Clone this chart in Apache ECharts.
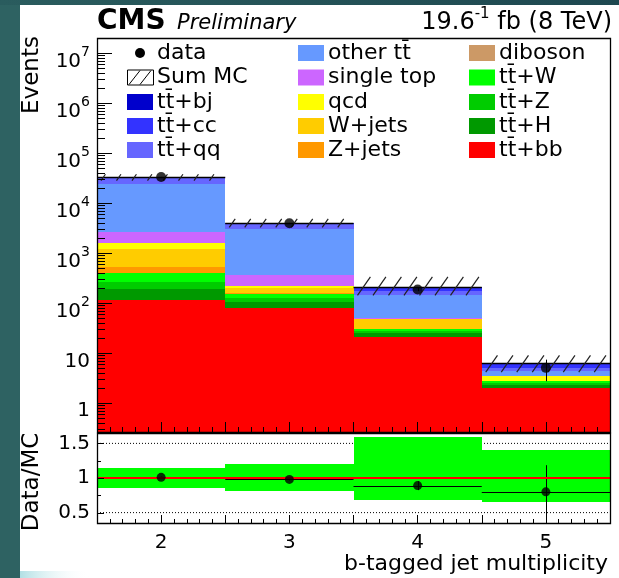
<!DOCTYPE html>
<html><head><meta charset="utf-8">
<script src="https://cdn.jsdelivr.net/npm/echarts@6/dist/echarts.min.js"></script>
<style>html,body{margin:0;padding:0;background:#fff;}#c{width:619px;height:578px;}</style>
</head><body><div id="c"></div>
<script>
// ---------------- data ----------------
const bins = [2, 3, 4, 5];
const xTickLabels = ['2', '3', '4', '5'];
// MC components, stacked bottom -> top
const ttbb      = [115, 79, 21, 2.0];
const ttH       = [75, 26, 4, 0.24];
const ttZ       = [73, 21, 2.5, 0.21];
const ttW       = [135, 25, 2, 0.24];
const diboson   = [5, 1, 0.2, 0];
const zjets     = [122, 3, 0.3, 0];
const wjets     = [677, 45, 18, 0];
const qcd       = [383, 19, 0, 0.7];
const singleTop = [1045, 144, 1.5, 0];
const otherTT   = [21370, 2657, 95, 0.98];
const ttqq      = [7000, 780, 29, 0.63];
const ttcc      = [1200, 150, 21, 0.89];
const ttbj      = [500, 50, 13, 0.41];
const dataVals  = [33000, 3920, 185, 5.0];
const dataErr   = [182, 63, 13.6, 2.3];
const mcUncLow  = [0.855, 0.81, 0.68, 0.65];
const mcUncHigh = [1.145, 1.198, 1.59, 1.406];
const ratioVals = [1.01, 0.98, 0.89, 0.80];
const ratioErr  = [0.01, 0.015, 0.065, 0.385];
const yMajorTicks = [1, 10, 100, 1e3, 1e4, 1e5, 1e6, 1e7];
const yTickLabels = ['1', '10', '10^2', '10^3', '10^4', '10^5', '10^6', '10^7'];
const ratioTicks = [0.5, 1, 1.5];
const ratioTickLabels = ['0.5', '1', '1.5'];
const ratioMinorTicks = [0.75, 1.25];
const ratioGridLines = [0.5, 1.5];

// ---------------- setup ----------------
const FONT = 'DejaVu Sans';
const X_MIN = 1.5, X_MAX = 5.5, Y_MIN = 0.26, Y_MAX = 2e7, R_MIN = 0.35, R_MAX = 1.65;
const HALF = 0.5;
const TT = 't' + 't\u0304';

const processes = [
  {name: TT + '+bb', values: ttbb, color: '#ff0000'},
  {name: TT + '+H', values: ttH, color: '#009900'},
  {name: TT + '+Z', values: ttZ, color: '#00cc00'},
  {name: TT + '+W', values: ttW, color: '#00ff00'},
  {name: 'diboson', values: diboson, color: '#cc9966'},
  {name: 'Z+jets', values: zjets, color: '#ff9900'},
  {name: 'W+jets', values: wjets, color: '#ffcc00'},
  {name: 'qcd', values: qcd, color: '#ffff00'},
  {name: 'single top', values: singleTop, color: '#cc66ff'},
  {name: 'other ' + TT, values: otherTT, color: '#6699ff'},
  {name: TT + '+qq', values: ttqq, color: '#6666ff'},
  {name: TT + '+cc', values: ttcc, color: '#3333ff'},
  {name: TT + '+bj', values: ttbj, color: '#0000cc'}
];
const colorOf = {};
processes.forEach(p => colorOf[p.name] = p.color);

function box(api, x0, x1, y0, y1) {
  const a = api.coord([x0, y1]), b = api.coord([x1, y0]);
  const top = Math.round(a[1]), bot = Math.round(b[1]);
  const left = Math.round(a[0]), right = Math.round(b[0]);
  return {x: left, y: top, width: right - left, height: bot - top};
}
function txt(style) {
  const s = Object.assign({fill: '#000', textFill: '#000', fontFamily: FONT}, style);
  if (s.textAlign) s.align = s.textAlign;
  if (s.textVerticalAlign) s.verticalAlign = s.textVerticalAlign;
  return s;
}

const series = [];
// stacked histogram
const cum = bins.map(() => 0);
processes.forEach(p => {
  const rows = [];
  bins.forEach((b, i) => {
    const lo = cum[i], hi = cum[i] + p.values[i];
    cum[i] = hi;
    if (p.values[i] > 0) rows.push([b, Math.max(lo, Y_MIN), hi]);
  });
  series.push({
    type: 'custom', name: p.name, xAxisIndex: 0, yAxisIndex: 0, clip: true, z: 2, silent: true,
    encode: {x: 0, y: [1, 2]}, data: rows,
    renderItem: (params, api) => ({
      type: 'rect',
      shape: box(api, api.value(0) - HALF, api.value(0) + HALF, api.value(1), api.value(2)),
      style: {fill: p.color}
    })
  });
});
const mcTotal = cum.slice();

// Sum MC line + hatched uncertainty
series.push({
  type: 'custom', name: 'Sum MC', xAxisIndex: 0, yAxisIndex: 0, clip: true, z: 3, silent: true,
  encode: {x: 0, y: [1, 2, 3]},
  data: bins.map((b, i) => [b, mcTotal[i], mcTotal[i] * mcUncLow[i], mcTotal[i] * mcUncHigh[i]]),
  renderItem: (params, api) => {
    const b = api.value(0);
    const L = api.coord([b - HALF, api.value(1)]), R = api.coord([b + HALF, api.value(1)]);
    const top = api.coord([b, api.value(3)])[1], bot = api.coord([b, api.value(2)])[1];
    const h = bot - top, dx = h * 0.7;
    const ch = [{type: 'line', shape: {x1: L[0], y1: Math.round(L[1]) + 0.5, x2: R[0], y2: Math.round(R[1]) + 0.5},
      style: {stroke: '#000', lineWidth: 1.5}}];
    for (let x = L[0] + 4; x + dx <= R[0] - 1; x += 15.5) {
      ch.push({type: 'line', shape: {x1: x, y1: bot, x2: x + dx, y2: top}, style: {stroke: '#222', lineWidth: 1.2}});
    }
    return {type: 'group', children: ch};
  }
});

// data error bars + points
series.push({
  type: 'custom', xAxisIndex: 0, yAxisIndex: 0, clip: true, z: 4, silent: true,
  encode: {x: 0, y: [1, 2]},
  data: bins.map((b, i) => [b, dataVals[i] - dataErr[i], dataVals[i] + dataErr[i]]),
  renderItem: (params, api) => {
    const p0 = api.coord([api.value(0), api.value(1)]), p1 = api.coord([api.value(0), api.value(2)]);
    const x = Math.round(p0[0]) + 0.5;
    return {type: 'line', shape: {x1: x, y1: p0[1], x2: x, y2: p1[1]}, style: {stroke: '#000', lineWidth: 1}};
  }
});
series.push({
  type: 'scatter', name: 'data', xAxisIndex: 0, yAxisIndex: 0, z: 5, silent: true,
  symbol: 'circle', symbolSize: 10, itemStyle: {color: '#000'},
  data: bins.map((b, i) => [b, dataVals[i]])
});

// ratio pad
series.push({
  type: 'line', xAxisIndex: 1, yAxisIndex: 1, z: 1, silent: true, symbol: 'none',
  lineStyle: {color: '#000', width: 1, type: [1, 2]},
  data: [[X_MIN, ratioGridLines[0]], [X_MAX, ratioGridLines[0]]]
});
series.push({
  type: 'line', xAxisIndex: 1, yAxisIndex: 1, z: 1, silent: true, symbol: 'none',
  lineStyle: {color: '#000', width: 1, type: [1, 2]},
  data: [[X_MIN, ratioGridLines[1]], [X_MAX, ratioGridLines[1]]]
});
series.push({
  type: 'custom', xAxisIndex: 1, yAxisIndex: 1, clip: true, z: 2, silent: true,
  encode: {x: 0, y: [1, 2]},
  data: bins.map((b, i) => [b, mcUncLow[i], mcUncHigh[i]]),
  renderItem: (params, api) => ({
    type: 'rect', shape: box(api, api.value(0) - HALF, api.value(0) + HALF, api.value(1), api.value(2)),
    style: {fill: '#00ff00'}
  })
});
series.push({
  type: 'custom', xAxisIndex: 1, yAxisIndex: 1, clip: true, z: 3, silent: true,
  encode: {x: 0, y: [1, 2, 3]},
  data: bins.map((b, i) => [b, ratioVals[i], ratioVals[i] - ratioErr[i], ratioVals[i] + ratioErr[i]]),
  renderItem: (params, api) => {
    const b = api.value(0);
    const L = api.coord([b - HALF, api.value(1)]), R = api.coord([b + HALF, api.value(1)]);
    const T = api.coord([b, api.value(3)]), B = api.coord([b, api.value(2)]);
    const y = Math.round(L[1]) + 0.5, x = Math.round(T[0]) + 0.5;
    return {type: 'group', children: [
      {type: 'line', shape: {x1: L[0], y1: y, x2: R[0], y2: y}, style: {stroke: '#000', lineWidth: 1}},
      {type: 'line', shape: {x1: x, y1: T[1], x2: x, y2: B[1]}, style: {stroke: '#000', lineWidth: 1}}
    ]};
  }
});
series.push({
  type: 'line', xAxisIndex: 1, yAxisIndex: 1, z: 4, silent: true, symbol: 'none',
  lineStyle: {color: '#ff0000', width: 2},
  data: [[X_MIN, 1], [X_MAX, 1]]
});
series.push({
  type: 'scatter', xAxisIndex: 1, yAxisIndex: 1, z: 5, silent: true,
  symbol: 'circle', symbolSize: 9, itemStyle: {color: '#000'},
  data: bins.map((b, i) => [b, ratioVals[i]])
});

// y-axis ticks & labels (drawn through the axis scales)
function yTicks(xi, yi, values, len) {
  return {
    type: 'custom', xAxisIndex: xi, yAxisIndex: yi, clip: false, z: 12, silent: true,
    data: values.map(v => [X_MIN, v]),
    renderItem: (params, api) => {
      const p = api.coord([api.value(0), api.value(1)]);
      const y = Math.round(p[1]) + 0.5;
      return {type: 'line', shape: {x1: p[0], y1: y, x2: p[0] + len, y2: y}, style: {stroke: '#000', lineWidth: 1}};
    }
  };
}
const yMinor = [];
for (let e = -1; e <= 7; e++) for (let m = 2; m <= 9; m++) {
  const v = m * Math.pow(10, e);
  if (v >= Y_MIN && v <= Y_MAX) yMinor.push(v);
}
series.push(yTicks(0, 0, yMajorTicks, 15));
series.push(yTicks(0, 0, yMinor, 8));
series.push(yTicks(1, 1, ratioTicks, 7));
series.push(yTicks(1, 1, ratioMinorTicks, 4));

const labRich = {
  b: {fontSize: 20, fontFamily: FONT, lineHeight: 26, verticalAlign: 'bottom', fill: '#000', textFill: '#000', color: '#000'},
  e: {fontSize: 14, fontFamily: FONT, lineHeight: 14, verticalAlign: 'top', fill: '#000', textFill: '#000', color: '#000'}
};
series.push({
  type: 'custom', xAxisIndex: 0, yAxisIndex: 0, clip: false, z: 12, silent: true,
  data: yMajorTicks.map((v, i) => [X_MIN, v, i]),
  renderItem: (params, api) => {
    const p = api.coord([api.value(0), api.value(1)]);
    const parts = yTickLabels[api.value(2)].split('^');
    const t = '{b|' + parts[0] + '}' + (parts[1] ? '{e|' + parts[1] + '}' : '');
    return {type: 'text', x: p[0] - 7, y: p[1] + 5.5,
      style: txt({text: t, rich: labRich, textAlign: 'right', textVerticalAlign: 'middle'})};
  }
});
series.push({
  type: 'custom', xAxisIndex: 1, yAxisIndex: 1, clip: false, z: 12, silent: true,
  data: ratioTicks.map((v, i) => [X_MIN, v, i]),
  renderItem: (params, api) => {
    const p = api.coord([api.value(0), api.value(1)]);
    return {type: 'text', x: p[0] - 7, y: p[1],
      style: txt({text: ratioTickLabels[api.value(2)], fontSize: 20, textAlign: 'right', textVerticalAlign: 'middle'})};
  }
});

// frames
function frame(xi, yi, y0, y1) {
  return {
    type: 'custom', xAxisIndex: xi, yAxisIndex: yi, clip: false, z: 13, silent: true,
    data: [[X_MIN, y0, y1]],
    renderItem: (params, api) => {
      const a = api.coord([X_MIN, y1]), b = api.coord([X_MAX, y0]);
      return {type: 'rect', shape: {x: Math.round(a[0]) + 0.5, y: Math.round(a[1]) + 0.5,
        width: Math.round(b[0]) - Math.round(a[0]), height: Math.round(b[1]) - Math.round(a[1])},
        style: {fill: null, stroke: '#000', lineWidth: 1.3}};
    }
  };
}
series.push(frame(0, 0, Y_MIN, Y_MAX));
series.push(frame(1, 1, R_MIN, R_MAX));

// ---------------- legend (graphic) ----------------
const legendCols = [
  ['data', 'Sum MC', TT + '+bj', TT + '+cc', TT + '+qq'],
  ['other ' + TT, 'single top', 'qcd', 'W+jets', 'Z+jets'],
  ['diboson', TT + '+W', TT + '+Z', TT + '+H', TT + '+bb']
];
const colX = [127, 298, 469];
const rowY = [53, 77.5, 102, 126, 150];
const graphics = [
  {type: 'rect', shape: {x: 0, y: 0, width: 20, height: 578}, style: {fill: '#2e6262'}, z: 100},
  {type: 'rect', shape: {x: 0, y: 0, width: 619, height: 5},
    style: {fill: new echarts.graphic.LinearGradient(0, 0, 1, 0, [{offset: 0, color: '#2a5c5e'}, {offset: 1, color: '#1e4850'}])}, z: 100},
  {type: 'rect', shape: {x: 20, y: 571, width: 70, height: 7},
    style: {fill: new echarts.graphic.LinearGradient(0, 0, 1, 0, [{offset: 0, color: 'rgba(170,220,225,0.9)'}, {offset: 1, color: 'rgba(255,255,255,0)'}])}, z: 100},
  {type: 'text', x: 97, y: 22, z: 100, style: txt({text: 'CMS', fontSize: 28, fontWeight: 'bold', textAlign: 'left', textVerticalAlign: 'middle'})},
  {type: 'text', x: 177, y: 24, z: 100, style: txt({text: 'Preliminary', fontSize: 21, fontStyle: 'italic', textAlign: 'left', textVerticalAlign: 'middle'})},
  {type: 'text', x: 612, y: 21, z: 100, style: txt({text: '{n|19.6}{s|-1}{n| fb (8 TeV)}', textAlign: 'right', textVerticalAlign: 'middle',
    rich: {n: {fontSize: 24, fontFamily: FONT, lineHeight: 28, verticalAlign: 'bottom', fill: '#000', textFill: '#000'},
           s: {fontSize: 15, fontFamily: FONT, lineHeight: 15, verticalAlign: 'top', fill: '#000', textFill: '#000'}}})},
  {type: 'text', x: 32, y: 75, rotation: Math.PI / 2, z: 100, style: txt({text: 'Events', fontSize: 23, textAlign: 'center', textVerticalAlign: 'middle'})},
  {type: 'text', x: 32, y: 482, rotation: Math.PI / 2, z: 100, style: txt({text: 'Data/MC', fontSize: 23, textAlign: 'center', textVerticalAlign: 'middle'})},
  {type: 'text', x: 608, y: 564, z: 100, style: txt({text: 'b-tagged jet multiplicity', fontSize: 22, textAlign: 'right', textVerticalAlign: 'middle'})}
];
legendCols.forEach((col, ci) => col.forEach((name, ri) => {
  const x = colX[ci], y = rowY[ri];
  if (name === 'data') {
    graphics.push({type: 'circle', shape: {cx: x + 13, cy: y, r: 5}, style: {fill: '#000'}, z: 100});
  } else if (name === 'Sum MC') {
    graphics.push({type: 'rect', shape: {x: x + 0.5, y: y - 7.5, width: 26, height: 15}, style: {fill: '#fff', stroke: '#000', lineWidth: 1}, z: 100});
    graphics.push({type: 'line', shape: {x1: x + 2, y1: y + 7, x2: x + 13, y2: y - 7}, style: {stroke: '#000', lineWidth: 1}, z: 100});
    graphics.push({type: 'line', shape: {x1: x + 13, y1: y + 7, x2: x + 24, y2: y - 7}, style: {stroke: '#000', lineWidth: 1}, z: 100});
  } else {
    graphics.push({type: 'rect', shape: {x: x, y: y - 8, width: 26, height: 16}, style: {fill: colorOf[name]}, z: 100});
  }
  graphics.push({type: 'text', x: x + 30, y: y, z: 100, style: txt({text: name, fontSize: 22, textAlign: 'left', textVerticalAlign: 'middle'})});
}));

// ---------------- chart ----------------
const chart = echarts.init(document.getElementById('c'), null, {renderer: 'canvas'});
chart.setOption({
  animation: false,
  backgroundColor: '#ffffff',
  grid: [
    {left: 97, top: 38, width: 513, height: 394, show: false},
    {left: 97, top: 433, width: 513, height: 90, show: false}
  ],
  xAxis: [
    {gridIndex: 0, type: 'value', min: X_MIN, max: X_MAX, interval: 0.5, z: 10,
      axisLine: {show: false}, splitLine: {show: false}, axisLabel: {show: false},
      axisTick: {show: true, inside: true, length: 10, lineStyle: {color: '#000', width: 1}},
      minorTick: {show: true, splitNumber: 5, length: 5, lineStyle: {color: '#000', width: 1}}},
    {gridIndex: 1, type: 'value', min: X_MIN, max: X_MAX, interval: 0.5, z: 10,
      axisLine: {show: false}, splitLine: {show: false},
      axisLabel: {show: true, margin: 10, color: '#000', fontSize: 20, fontFamily: FONT,
        formatter: v => { const i = bins.indexOf(v); return i >= 0 ? xTickLabels[i] : ''; }},
      axisTick: {show: true, inside: true, length: 8, lineStyle: {color: '#000', width: 1}},
      minorTick: {show: true, splitNumber: 5, length: 4, lineStyle: {color: '#000', width: 1}}}
  ],
  yAxis: [
    {gridIndex: 0, type: 'log', logBase: 10, min: Y_MIN, max: Y_MAX,
      axisLine: {show: false}, axisTick: {show: false}, axisLabel: {show: false}, splitLine: {show: false}},
    {gridIndex: 1, type: 'value', min: R_MIN, max: R_MAX,
      axisLine: {show: false}, axisTick: {show: false}, axisLabel: {show: false}, splitLine: {show: false}}
  ],
  graphic: {elements: graphics},
  series: series
});
</script></body></html>
